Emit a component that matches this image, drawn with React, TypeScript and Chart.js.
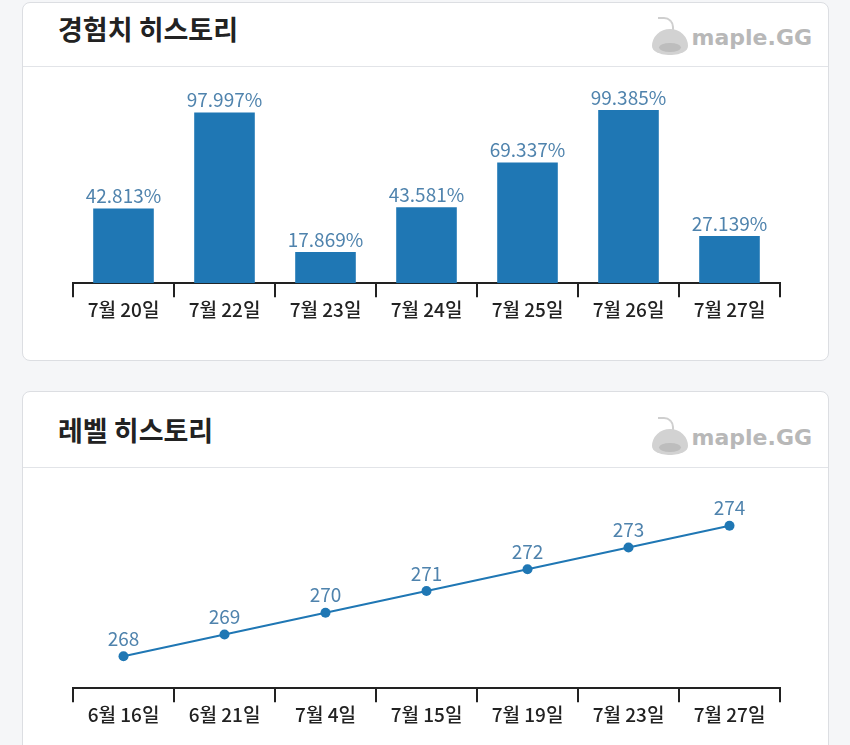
import React, { useEffect, useRef } from "react";
import { Chart, registerables } from "chart.js";

Chart.register(...registerables);

const expDates = ["7월 20일", "7월 22일", "7월 23일", "7월 24일", "7월 25일", "7월 26일", "7월 27일"];
const expValues = [42.813, 97.997, 17.869, 43.581, 69.337, 99.385, 27.139];

const levelDates = ["6월 16일", "6월 21일", "7월 4일", "7월 15일", "7월 19일", "7월 23일", "7월 27일"];
const levelValues = [268, 269, 270, 271, 272, 273, 274];

const FONT = "'Noto Sans CJK KR', 'Noto Sans', sans-serif";
const BLUE = "#1f77b4";
const LABEL = "#4f83ad";

const labelPlugin = (fmt: (v: number) => string, offset: number) => ({
  id: "valueLabels",
  afterDatasetsDraw(chart: any) {
    const ctx = chart.ctx;
    ctx.save();
    ctx.font = `19px ${FONT}`;
    ctx.fillStyle = LABEL;
    ctx.textAlign = "center";
    ctx.textBaseline = "bottom";
    chart.data.datasets.forEach((ds: any, di: number) => {
      const meta = chart.getDatasetMeta(di);
      meta.data.forEach((el: any, i: number) => {
        ctx.fillText(fmt(ds.data[i]), el.x, el.y - offset);
      });
    });
    ctx.restore();
  },
});

const xScale = () => ({
  offset: true,
  grid: {
    display: true,
    drawOnChartArea: false,
    drawTicks: true,
    tickLength: 14,
    offset: true,
    color: "#222",
    lineWidth: 2,
  },
  border: { display: true, color: "#222", width: 2 },
  ticks: {
    color: "#222",
    font: { family: FONT, size: 19, weight: "500" },
    padding: 1,
    maxRotation: 0,
    autoSkip: false,
  },
});

function BarChart() {
  const ref = useRef<HTMLCanvasElement>(null);
  useEffect(() => {
    const chart = new Chart(ref.current!, {
      type: "bar",
      data: {
        labels: expDates,
        datasets: [
          {
            data: expValues,
            backgroundColor: BLUE,
            barPercentage: 0.6,
            categoryPercentage: 1,
          },
        ],
      },
      options: {
        animation: false,
        responsive: false,
        layout: { padding: { left: 50, right: 48, top: 42, bottom: 37 } },
        plugins: { legend: { display: false }, tooltip: { enabled: false } },
        scales: {
          x: xScale() as any,
          y: { display: false, min: 0, max: 100 },
        },
      },
      plugins: [labelPlugin((v) => v.toFixed(3) + "%", 3)],
    });
    return () => chart.destroy();
  }, []);
  return <canvas ref={ref} width={805} height={292} style={{ position: "absolute", left: 0, top: 0 }} />;
}

function LineChart() {
  const ref = useRef<HTMLCanvasElement>(null);
  useEffect(() => {
    const chart = new Chart(ref.current!, {
      type: "line",
      data: {
        labels: levelDates,
        datasets: [
          {
            data: levelValues,
            borderColor: BLUE,
            backgroundColor: BLUE,
            borderWidth: 2,
            pointRadius: 5,
            pointBackgroundColor: BLUE,
            pointBorderWidth: 0,
            tension: 0,
          },
        ],
      },
      options: {
        animation: false,
        responsive: false,
        layout: { padding: { left: 50, right: 48, top: 36, bottom: 33 } },
        plugins: { legend: { display: false }, tooltip: { enabled: false } },
        scales: {
          x: xScale() as any,
          y: { display: false, min: 266.53, max: 275 },
        },
      },
      plugins: [labelPlugin((v) => String(v), 8)],
    });
    return () => chart.destroy();
  }, []);
  return <canvas ref={ref} width={805} height={292} style={{ position: "absolute", left: 0, top: 0 }} />;
}

function Logo({ top }: { top: number }) {
  return (
    <div style={{ position: "absolute", right: 16, top, display: "flex", alignItems: "center" }}>
      <div style={{ position: "relative", width: 40, height: 36, marginRight: 2 }}>
        <div
          style={{
            position: "absolute",
            left: 8,
            top: -2,
            width: 14,
            height: 12,
            borderTop: "2px solid #cfcfcf",
            borderRight: "2px solid #cfcfcf",
            borderRadius: "0 10px 0 0",
          }}
        />
        <div
          style={{
            position: "absolute",
            left: 2,
            top: 10,
            width: 36,
            height: 26,
            background: "#d2d2d2",
            borderRadius: "50% 50% 45% 45% / 65% 65% 35% 35%",
          }}
        />
        <div
          style={{
            position: "absolute",
            left: 9,
            top: 24,
            width: 22,
            height: 9,
            background: "#bdbdbd",
            borderRadius: "50%",
          }}
        />
      </div>
      <span
        style={{
          fontFamily: "'DejaVu Sans', sans-serif",
          fontWeight: "bold",
          fontSize: 22,
          color: "#b8b8b8",
        }}
      >
        maple.GG
      </span>
    </div>
  );
}

function Card({
  title,
  top,
  height,
  header,
  titleTop,
  logoTop,
  children,
}: {
  title: string;
  top: number;
  height: number;
  header: number;
  titleTop: number;
  logoTop: number;
  children: any;
}) {
  return (
    <div
      style={{
        position: "absolute",
        left: 22,
        top,
        width: 807,
        height,
        boxSizing: "border-box",
        background: "#fff",
        border: "1px solid #dcdee2",
        borderRadius: 8,
        overflow: "hidden",
      }}
    >
      <div
        style={{
          position: "absolute",
          left: 0,
          top: 0,
          right: 0,
          height: header,
          borderBottom: "1px solid #e2e4e8",
        }}
      >
        <div
          style={{
            position: "absolute",
            left: 35,
            top: titleTop,
            fontFamily: FONT,
            fontWeight: "bold",
            fontSize: 27,
            lineHeight: "36px",
            color: "#222",
          }}
        >
          {title}
        </div>
        <Logo top={logoTop} />
      </div>
      <div style={{ position: "absolute", left: 0, top: header + 1, width: 805, height: 292 }}>{children}</div>
    </div>
  );
}

export default function App() {
  return (
    <div style={{ position: "fixed", left: 0, top: 0, width: 850, height: 745, background: "#f5f6f8", overflow: "hidden" }}>
      <Card title="경험치 히스토리" top={2} height={359} header={63} titleTop={8} logoTop={16}>
        <BarChart />
      </Card>
      <Card title="레벨 히스토리" top={391} height={400} header={75} titleTop={20} logoTop={27}>
        <LineChart />
      </Card>
    </div>
  );
}
